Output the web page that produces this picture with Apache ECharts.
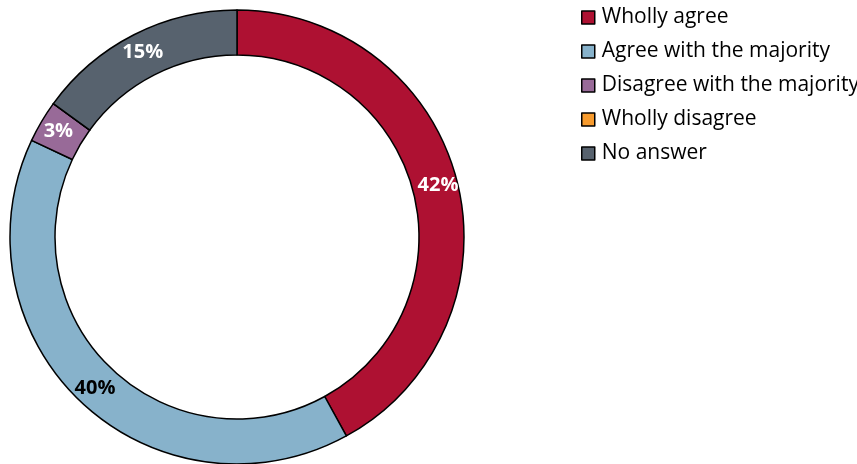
<!DOCTYPE html>
<html>
<head>
<meta charset="utf-8">
<script src="https://cdn.jsdelivr.net/npm/echarts@6/dist/echarts.min.js"></script>
<style>
  html, body { margin: 0; padding: 0; background: #fff; }
  #chart { width: 857px; height: 464px; }
</style>
</head>
<body>
<div id="chart"></div>
<script>
// Survey answers, share of respondents in percent
const categories = ['Wholly agree', 'Agree with the majority', 'Disagree with the majority', 'Wholly disagree', 'No answer'];
const shares = [42, 40, 3, 0, 15];
const colors = ['#AE1132', '#87B2CB', '#986A98', '#F79B2E', '#57626E'];
const labelColors = ['#ffffff', '#000000', '#ffffff', '#ffffff', '#ffffff'];

const data = categories.map((name, i) => ({
  name,
  value: shares[i],
  itemStyle: { color: colors[i] },
  label: { show: shares[i] > 0, color: labelColors[i] }
}));

const chart = echarts.init(document.getElementById('chart'), null, { renderer: 'canvas' });
chart.setOption({
  animation: false,
  legend: {
    orient: 'vertical',
    left: 576,
    top: 2,
    itemWidth: 13,
    itemHeight: 13,
    itemGap: 13,
    icon: 'rect',
    itemStyle: { borderColor: '#000', borderWidth: 1.5 },
    textStyle: { fontFamily: 'Open Sans, sans-serif', fontSize: 21, lineHeight: 21, color: '#000', padding: [0, 0, 0, 2] },
    data: categories
  },
  series: [{
    type: 'pie',
    center: [237, 237],
    radius: [182, 227],
    startAngle: 90,
    clockwise: true,
    avoidLabelOverlap: false,
    stillShowZeroSum: false,
    itemStyle: { borderColor: '#000', borderWidth: 1.5 },
    label: {
      position: 'inside',
      formatter: '{c}%',
      fontFamily: 'Open Sans, sans-serif',
      fontWeight: 'bold',
      fontSize: 20
    },
    labelLine: { show: false },
    emphasis: { disabled: true },
    data
  }]
});
</script>
</body>
</html>
